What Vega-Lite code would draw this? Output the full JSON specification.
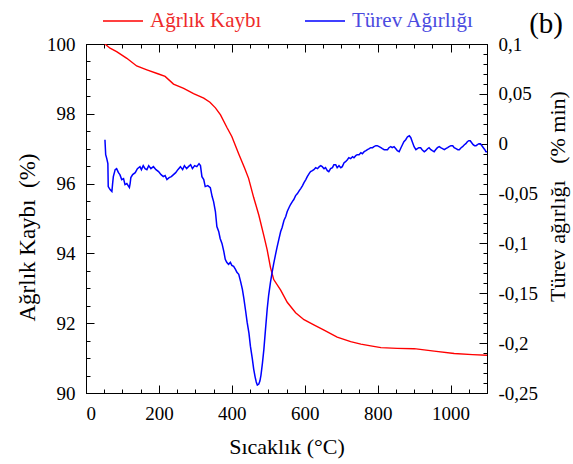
{
  "$schema": "https://vega.github.io/schema/vega-lite/v6.json",
  "width": 401,
  "height": 349,
  "autosize": "none",
  "padding": {"left": 86, "top": 44, "right": 86, "bottom": 71},
  "background": "white",
  "config": {
    "font": "Liberation Serif",
    "view": {"stroke": null},
    "axis": {
      "grid": false,
      "domainColor": "black",
      "domainWidth": 1,
      "tickColor": "black",
      "tickWidth": 1,
      "labelColor": "black",
      "titleColor": "black",
      "labelFont": "Liberation Serif",
      "titleFont": "Liberation Serif",
      "titleFontWeight": "normal",
      "labelFontSize": 19
    },
    "legend": {"labelFont": "Liberation Serif"}
  },
  "title": {
    "text": "(b)",
    "orient": "top",
    "anchor": "end",
    "frame": "group",
    "font": "Liberation Serif",
    "fontSize": 29,
    "fontWeight": "normal",
    "color": "black",
    "baseline": "alphabetic",
    "offset": 9,
    "dx": 76,
    "dy": 71
  },
  "datasets": {
    "tga": [
      {"T": 52, "W": 100.0}, {"T": 66, "W": 99.88}, {"T": 84, "W": 99.78}, {"T": 112, "W": 99.59},
      {"T": 139, "W": 99.37}, {"T": 167, "W": 99.26}, {"T": 199, "W": 99.14}, {"T": 217, "W": 99.07},
      {"T": 240, "W": 98.85}, {"T": 268, "W": 98.73}, {"T": 295, "W": 98.58}, {"T": 323, "W": 98.45},
      {"T": 340, "W": 98.33}, {"T": 355, "W": 98.17}, {"T": 369, "W": 97.97}, {"T": 387, "W": 97.6},
      {"T": 400, "W": 97.35}, {"T": 419, "W": 96.85}, {"T": 435, "W": 96.45}, {"T": 446, "W": 96.15},
      {"T": 460, "W": 95.6}, {"T": 474, "W": 95.1}, {"T": 488, "W": 94.5}, {"T": 497, "W": 94.1},
      {"T": 506, "W": 93.6}, {"T": 515, "W": 93.25}, {"T": 534, "W": 92.95}, {"T": 552, "W": 92.6},
      {"T": 575, "W": 92.3}, {"T": 598, "W": 92.1}, {"T": 625, "W": 91.95}, {"T": 653, "W": 91.8},
      {"T": 689, "W": 91.6}, {"T": 726, "W": 91.47}, {"T": 754, "W": 91.4}, {"T": 781, "W": 91.35},
      {"T": 809, "W": 91.3}, {"T": 854, "W": 91.28}, {"T": 900, "W": 91.27}, {"T": 955, "W": 91.2},
      {"T": 1010, "W": 91.13}, {"T": 1060, "W": 91.1}, {"T": 1100, "W": 91.08}
    ],
    "dtg": [
      {"T": 52, "D": 0.004}, {"T": 54, "D": -0.011}, {"T": 57, "D": -0.015}, {"T": 60, "D": -0.02},
      {"T": 61, "D": -0.043}, {"T": 66, "D": -0.046}, {"T": 71, "D": -0.048}, {"T": 73, "D": -0.04},
      {"T": 75, "D": -0.033}, {"T": 80, "D": -0.026}, {"T": 84, "D": -0.025}, {"T": 89, "D": -0.029},
      {"T": 93, "D": -0.031}, {"T": 98, "D": -0.036}, {"T": 103, "D": -0.035}, {"T": 107, "D": -0.041},
      {"T": 112, "D": -0.04}, {"T": 119, "D": -0.044}, {"T": 121, "D": -0.04}, {"T": 123, "D": -0.034},
      {"T": 128, "D": -0.031}, {"T": 135, "D": -0.029}, {"T": 141, "D": -0.025}, {"T": 148, "D": -0.023},
      {"T": 152, "D": -0.026}, {"T": 157, "D": -0.022}, {"T": 162, "D": -0.025}, {"T": 167, "D": -0.026},
      {"T": 172, "D": -0.022}, {"T": 178, "D": -0.025}, {"T": 185, "D": -0.023}, {"T": 192, "D": -0.026},
      {"T": 199, "D": -0.028}, {"T": 206, "D": -0.031}, {"T": 212, "D": -0.033}, {"T": 217, "D": -0.032},
      {"T": 222, "D": -0.036}, {"T": 228, "D": -0.034}, {"T": 234, "D": -0.033}, {"T": 240, "D": -0.031},
      {"T": 246, "D": -0.029}, {"T": 252, "D": -0.026}, {"T": 259, "D": -0.023}, {"T": 265, "D": -0.026},
      {"T": 270, "D": -0.022}, {"T": 276, "D": -0.025}, {"T": 281, "D": -0.023}, {"T": 287, "D": -0.021},
      {"T": 292, "D": -0.025}, {"T": 298, "D": -0.022}, {"T": 304, "D": -0.023}, {"T": 310, "D": -0.02},
      {"T": 314, "D": -0.022}, {"T": 318, "D": -0.033}, {"T": 323, "D": -0.036}, {"T": 327, "D": -0.043},
      {"T": 334, "D": -0.042}, {"T": 341, "D": -0.044}, {"T": 346, "D": -0.053}, {"T": 350, "D": -0.058},
      {"T": 355, "D": -0.068}, {"T": 359, "D": -0.083}, {"T": 364, "D": -0.088}, {"T": 368, "D": -0.095},
      {"T": 373, "D": -0.1}, {"T": 378, "D": -0.108}, {"T": 382, "D": -0.116}, {"T": 386, "D": -0.119},
      {"T": 391, "D": -0.121}, {"T": 396, "D": -0.119}, {"T": 400, "D": -0.122}, {"T": 405, "D": -0.123},
      {"T": 410, "D": -0.126}, {"T": 414, "D": -0.129}, {"T": 419, "D": -0.131}, {"T": 424, "D": -0.138},
      {"T": 429, "D": -0.146}, {"T": 433, "D": -0.155}, {"T": 438, "D": -0.168}, {"T": 442, "D": -0.179},
      {"T": 447, "D": -0.19}, {"T": 451, "D": -0.203}, {"T": 456, "D": -0.215}, {"T": 460, "D": -0.226},
      {"T": 464, "D": -0.234}, {"T": 467, "D": -0.239}, {"T": 470, "D": -0.242}, {"T": 474, "D": -0.241},
      {"T": 477, "D": -0.238}, {"T": 480, "D": -0.232}, {"T": 484, "D": -0.22}, {"T": 488, "D": -0.206},
      {"T": 492, "D": -0.188}, {"T": 497, "D": -0.166}, {"T": 501, "D": -0.152}, {"T": 506, "D": -0.139},
      {"T": 511, "D": -0.128}, {"T": 515, "D": -0.12}, {"T": 520, "D": -0.111}, {"T": 524, "D": -0.104},
      {"T": 529, "D": -0.096}, {"T": 534, "D": -0.088}, {"T": 538, "D": -0.084}, {"T": 543, "D": -0.077},
      {"T": 548, "D": -0.073}, {"T": 552, "D": -0.068}, {"T": 557, "D": -0.064}, {"T": 561, "D": -0.061},
      {"T": 566, "D": -0.058}, {"T": 570, "D": -0.056}, {"T": 575, "D": -0.052}, {"T": 580, "D": -0.05},
      {"T": 585, "D": -0.047}, {"T": 589, "D": -0.045}, {"T": 594, "D": -0.042}, {"T": 598, "D": -0.039},
      {"T": 603, "D": -0.036}, {"T": 607, "D": -0.033}, {"T": 612, "D": -0.03}, {"T": 616, "D": -0.028},
      {"T": 621, "D": -0.027}, {"T": 625, "D": -0.026}, {"T": 630, "D": -0.024}, {"T": 635, "D": -0.025},
      {"T": 640, "D": -0.023}, {"T": 644, "D": -0.022}, {"T": 648, "D": -0.023}, {"T": 653, "D": -0.025},
      {"T": 657, "D": -0.024}, {"T": 662, "D": -0.027}, {"T": 666, "D": -0.028}, {"T": 671, "D": -0.025},
      {"T": 676, "D": -0.024}, {"T": 680, "D": -0.021}, {"T": 685, "D": -0.021}, {"T": 689, "D": -0.024},
      {"T": 694, "D": -0.022}, {"T": 699, "D": -0.024}, {"T": 703, "D": -0.023}, {"T": 708, "D": -0.019},
      {"T": 712, "D": -0.018}, {"T": 717, "D": -0.016}, {"T": 721, "D": -0.014}, {"T": 726, "D": -0.015},
      {"T": 731, "D": -0.013}, {"T": 735, "D": -0.014}, {"T": 740, "D": -0.012}, {"T": 744, "D": -0.011},
      {"T": 749, "D": -0.011}, {"T": 754, "D": -0.009}, {"T": 758, "D": -0.01}, {"T": 763, "D": -0.008},
      {"T": 768, "D": -0.007}, {"T": 772, "D": -0.006}, {"T": 777, "D": -0.005}, {"T": 781, "D": -0.004},
      {"T": 786, "D": -0.004}, {"T": 790, "D": -0.003}, {"T": 795, "D": -0.002}, {"T": 799, "D": -0.002},
      {"T": 804, "D": -0.003}, {"T": 809, "D": -0.004}, {"T": 813, "D": -0.005}, {"T": 818, "D": -0.006},
      {"T": 822, "D": -0.006}, {"T": 827, "D": -0.006}, {"T": 831, "D": -0.004}, {"T": 836, "D": -0.003},
      {"T": 840, "D": -0.004}, {"T": 845, "D": -0.003}, {"T": 850, "D": -0.005}, {"T": 854, "D": -0.007},
      {"T": 859, "D": -0.008}, {"T": 864, "D": -0.004}, {"T": 868, "D": -0.001}, {"T": 872, "D": 0.002},
      {"T": 877, "D": 0.004}, {"T": 882, "D": 0.007}, {"T": 887, "D": 0.008}, {"T": 891, "D": 0.006},
      {"T": 895, "D": 0.002}, {"T": 900, "D": -0.003}, {"T": 905, "D": -0.006}, {"T": 909, "D": -0.005},
      {"T": 913, "D": -0.004}, {"T": 918, "D": -0.004}, {"T": 922, "D": -0.006}, {"T": 928, "D": -0.008},
      {"T": 932, "D": -0.007}, {"T": 937, "D": -0.005}, {"T": 941, "D": -0.004}, {"T": 946, "D": -0.006},
      {"T": 950, "D": -0.007}, {"T": 955, "D": -0.008}, {"T": 959, "D": -0.006}, {"T": 964, "D": -0.004},
      {"T": 969, "D": -0.003}, {"T": 973, "D": -0.004}, {"T": 978, "D": -0.005}, {"T": 983, "D": -0.006},
      {"T": 987, "D": -0.005}, {"T": 992, "D": -0.004}, {"T": 996, "D": -0.003}, {"T": 1001, "D": -0.002},
      {"T": 1006, "D": -0.002}, {"T": 1010, "D": -0.004}, {"T": 1015, "D": -0.005}, {"T": 1020, "D": -0.006},
      {"T": 1024, "D": -0.006}, {"T": 1029, "D": -0.004}, {"T": 1033, "D": -0.003}, {"T": 1038, "D": -0.001},
      {"T": 1042, "D": 0.0}, {"T": 1046, "D": 0.002}, {"T": 1050, "D": 0.003}, {"T": 1054, "D": 0.003},
      {"T": 1058, "D": 0.001}, {"T": 1062, "D": -0.001}, {"T": 1066, "D": -0.002}, {"T": 1070, "D": -0.002},
      {"T": 1074, "D": -0.001}, {"T": 1078, "D": 0.0}, {"T": 1082, "D": 0.0}, {"T": 1086, "D": -0.002},
      {"T": 1090, "D": -0.004}, {"T": 1094, "D": -0.006}, {"T": 1097, "D": -0.008}, {"T": 1100, "D": -0.008}
    ]
  },
  "layer": [
    {
      "data": {"name": "tga"},
      "mark": {"type": "line", "strokeWidth": 1.4, "clip": true},
      "encoding": {
        "x": {"field": "T", "type": "quantitative", "scale": {"domain": [0, 1100], "nice": false, "zero": false},
          "axis": {"orient": "bottom", "values": [0, 200, 400, 600, 800, 1000], "ticks": false, "tickSize": 0, "labelPadding": 11,
            "labelFont": "Liberation Serif", "titleFont": "Liberation Serif",
            "labelExpr": "format(datum.value, 'd')", "title": "Sıcaklık (°C)", "titleFontSize": 22, "titleBaseline": "alphabetic", "titleY": 60}},
        "y": {"field": "W", "type": "quantitative", "scale": {"domain": [90, 100], "nice": false, "zero": false},
          "axis": {"orient": "left", "values": [90, 92, 94, 96, 98, 100], "ticks": false, "tickSize": 0, "labelPadding": 11,
            "labelFont": "Liberation Serif", "titleFont": "Liberation Serif",
            "title": "Ağrlık Kaybı\u00a0\u00a0(%)", "titleFontSize": 23, "titleAngle": -90, "titleX": -59, "titleY": 193, "titleBaseline": "middle", "titleAlign": "center"}},
        "stroke": {"datum": "Ağrlık Kaybı", "type": "nominal",
          "scale": {"domain": ["Ağrlık Kaybı", "Türev Ağırlığı"], "range": ["#ff0000", "#0000ff"]},
          "legend": {"orient": "none", "legendX": 16, "legendY": -44, "direction": "horizontal", "title": null,
            "symbolType": "stroke", "symbolSize": 1600, "symbolStrokeWidth": 1.5, "labelFontSize": 21, "labelFont": "Liberation Serif",
            "labelOffset": 6, "columnPadding": 40, "padding": 0,
            "encode": {"labels": {"update": {"font": {"value": "Liberation Serif"}, "fill": {"signal": "datum.value === 'Ağrlık Kaybı' ? '#ee2a2a' : '#4b4be0'"}}}}}}
      }
    },
    {
      "data": {"name": "dtg"},
      "mark": {"type": "line", "strokeWidth": 1.5, "clip": true},
      "encoding": {
        "x": {"field": "T", "type": "quantitative", "scale": {"domain": [0, 1100], "nice": false, "zero": false}, "axis": null},
        "y": {"field": "D", "type": "quantitative", "scale": {"domain": [-0.25, 0.1], "nice": false, "zero": false},
          "axis": {"orient": "right", "values": [-0.25, -0.2, -0.15, -0.1, -0.05, 0, 0.05, 0.1], "ticks": false, "tickSize": 0, "labelPadding": 11,
            "labelFont": "Liberation Serif", "titleFont": "Liberation Serif",
            "labelExpr": "(datum.value < -0.0001 ? '-' : '') + replace(format(abs(datum.value), '.2~f'), '.', ',')",
            "title": "Türev ağırlığı\u00a0\u00a0\u00a0(% min)", "titleFontSize": 22, "titleAngle": -90, "titleX": 70, "titleY": 152, "titleBaseline": "middle", "titleAlign": "center"}},
        "stroke": {"datum": "Türev Ağırlığı", "type": "nominal"}
      }
    },
    {
      "data": {"name": "tga"},
      "mark": {"type": "line", "opacity": 0},
      "encoding": {
        "x": {"field": "T", "type": "quantitative", "scale": {"domain": [0, 1100], "nice": false, "zero": false},
          "axis": {"orient": "bottom", "values": [0, 50, 100, 150, 200, 250, 300, 350, 400, 450, 500, 550, 600, 650, 700, 750, 800, 850, 900, 950, 1000, 1050, 1100], "labels": false, "domain": false, "tickSize": -4, "title": null}},
        "y": {"field": "W", "type": "quantitative", "scale": {"domain": [90, 100], "nice": false, "zero": false},
          "axis": {"orient": "left", "values": [90, 90.5, 91, 91.5, 92, 92.5, 93, 93.5, 94, 94.5, 95, 95.5, 96, 96.5, 97, 97.5, 98, 98.5, 99, 99.5, 100], "labels": false, "domain": false, "tickSize": -4, "title": null}}
      }
    },
    {
      "data": {"name": "tga"},
      "mark": {"type": "line", "opacity": 0},
      "encoding": {
        "x": {"field": "T", "type": "quantitative", "scale": {"domain": [0, 1100], "nice": false, "zero": false},
          "axis": {"orient": "bottom", "values": [0, 200, 400, 600, 800, 1000], "labels": false, "domain": false, "tickSize": -8, "title": null}},
        "y": {"field": "W", "type": "quantitative", "scale": {"domain": [90, 100], "nice": false, "zero": false},
          "axis": {"orient": "left", "values": [90, 92, 94, 96, 98, 100], "labels": false, "domain": false, "tickSize": -8, "title": null}}
      }
    },
    {
      "data": {"name": "tga"},
      "mark": {"type": "line", "opacity": 0},
      "encoding": {
        "x": {"field": "T", "type": "quantitative", "scale": {"domain": [0, 1100], "nice": false, "zero": false},
          "axis": {"orient": "top", "values": [0, 50, 100, 150, 200, 250, 300, 350, 400, 450, 500, 550, 600, 650, 700, 750, 800, 850, 900, 950, 1000, 1050, 1100], "labels": false, "domain": true, "tickSize": -4, "title": null}},
        "y": {"field": "W", "type": "quantitative", "scale": {"domain": [90, 100], "nice": false, "zero": false}, "axis": null}
      }
    },
    {
      "data": {"name": "tga"},
      "mark": {"type": "line", "opacity": 0},
      "encoding": {
        "x": {"field": "T", "type": "quantitative", "scale": {"domain": [0, 1100], "nice": false, "zero": false},
          "axis": {"orient": "top", "values": [0, 200, 400, 600, 800, 1000], "labels": false, "domain": false, "tickSize": -8, "title": null}},
        "y": {"field": "W", "type": "quantitative", "scale": {"domain": [90, 100], "nice": false, "zero": false}, "axis": null}
      }
    },
    {
      "data": {"name": "dtg"},
      "mark": {"type": "line", "opacity": 0},
      "encoding": {
        "x": {"field": "T", "type": "quantitative", "scale": {"domain": [0, 1100], "nice": false, "zero": false}, "axis": null},
        "y": {"field": "D", "type": "quantitative", "scale": {"domain": [-0.25, 0.1], "nice": false, "zero": false},
          "axis": {"orient": "right", "values": [-0.25, -0.24, -0.23, -0.22, -0.21, -0.2, -0.19, -0.18, -0.17, -0.16, -0.15, -0.14, -0.13, -0.12, -0.11, -0.1, -0.09, -0.08, -0.07, -0.06, -0.05, -0.04, -0.03, -0.02, -0.01, 0, 0.01, 0.02, 0.03, 0.04, 0.05, 0.06, 0.07, 0.08, 0.09, 0.1], "labels": false, "domain": false, "tickSize": -4, "title": null}}
      }
    },
    {
      "data": {"name": "dtg"},
      "mark": {"type": "line", "opacity": 0},
      "encoding": {
        "x": {"field": "T", "type": "quantitative", "scale": {"domain": [0, 1100], "nice": false, "zero": false}, "axis": null},
        "y": {"field": "D", "type": "quantitative", "scale": {"domain": [-0.25, 0.1], "nice": false, "zero": false},
          "axis": {"orient": "right", "values": [-0.25, -0.2, -0.15, -0.1, -0.05, 0, 0.05, 0.1], "labels": false, "domain": false, "tickSize": -8, "title": null}}
      }
    }
  ],
  "resolve": {"scale": {"y": "independent"}, "axis": {"x": "independent", "y": "independent"}}
}
